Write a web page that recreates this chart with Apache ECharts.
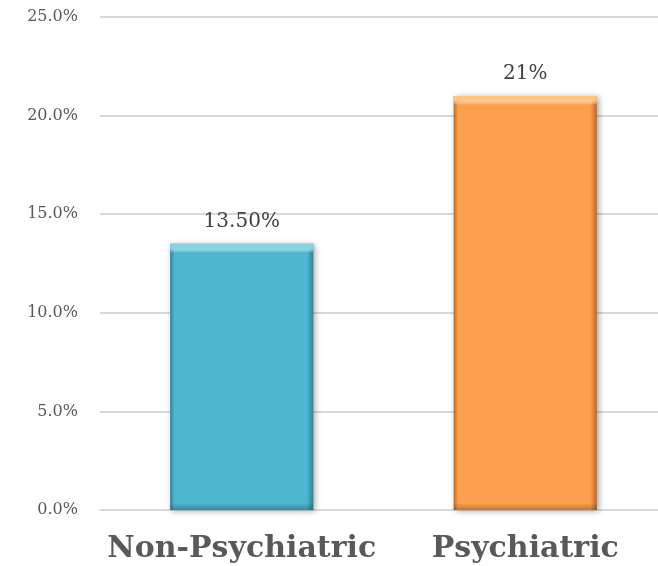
<!DOCTYPE html>
<html>
<head>
<meta charset="utf-8">
<script src="https://cdn.jsdelivr.net/npm/echarts@6/dist/echarts.min.js"></script>
<style>
  html, body { margin: 0; padding: 0; background: #fff; }
  #chart { width: 658px; height: 566px; }
</style>
</head>
<body>
<div id="chart"></div>
<script>
// Share of patients, by ward type
const categories = ['Non-Psychiatric', 'Psychiatric'];
const rates = [13.5, 21];
const rateLabels = ['13.50%', '21%'];
const yTicks = { min: 0, max: 25, step: 5 };

const FONT = '"DejaVu Serif", Georgia, serif';
const TEXT = '#595959';

// base face colours and their darker/lighter bevel tints
const faces = [
  { base: '#4fb6d0', dark: '#2f7f95', light: '#86d3e6' },
  { base: '#fba04e', dark: '#b8692a', light: '#ffc47e' }
];

function sideShade(f) {
  return new echarts.graphic.LinearGradient(0, 0, 1, 0, [
    { offset: 0, color: f.dark },
    { offset: 0.03, color: f.base },
    { offset: 0.955, color: f.base },
    { offset: 1, color: f.dark }
  ]);
}

// thin highlight along the top and shadow along the bottom, sized in pixels
function edgeShade(f, value) {
  const plotH = 493;
  const h = value / yTicks.max * plotH;
  const t = 9 / h, b = 7 / h;
  return new echarts.graphic.LinearGradient(0, 0, 0, 1, [
    { offset: 0, color: f.light },
    { offset: t * 0.4, color: f.light },
    { offset: t, color: 'rgba(255,255,255,0)' },
    { offset: 1 - b, color: 'rgba(0,0,0,0)' },
    { offset: 1, color: 'rgba(0,0,0,0.25)' }
  ]);
}

const chart = echarts.init(document.getElementById('chart'), null, { renderer: 'canvas' });
chart.setOption({
  animation: false,
  grid: { left: 100, top: 17, width: 567, height: 493, outerBoundsMode: 'none', containLabel: false },
  xAxis: {
    type: 'category',
    data: categories,
    axisLine: { show: true, lineStyle: { color: '#d9d9d9', width: 2 } },
    axisTick: { show: false },
    axisLabel: {
      interval: 0,
      color: TEXT, fontFamily: FONT, fontWeight: 'bold', fontSize: 30, margin: 24
    }
  },
  yAxis: {
    type: 'value',
    min: yTicks.min, max: yTicks.max, interval: yTicks.step,
    axisLine: { show: false },
    axisTick: { show: false },
    splitLine: { lineStyle: { color: '#d9d9d9', width: 2 } },
    axisLabel: {
      color: TEXT, fontFamily: FONT, fontSize: 16, margin: 22,
      formatter: v => v.toFixed(1) + '%'
    }
  },
  series: [
    {
      type: 'bar',
      barWidth: '50.5%',
      data: rates.map((v, i) => ({
        value: v,
        itemStyle: {
          color: sideShade(faces[i]),
          shadowColor: 'rgba(0,0,0,0.35)',
          shadowBlur: 6,
          shadowOffsetX: 2,
          shadowOffsetY: 1
        }
      })),
      label: {
        show: true,
        position: 'top',
        distance: 12,
        color: '#404040',
        fontFamily: FONT,
        fontSize: 20,
        formatter: p => rateLabels[p.dataIndex]
      },
      z: 2
    },
    {
      type: 'bar',
      barWidth: '50.5%',
      barGap: '-100%',
      silent: true,
      data: rates.map((v, i) => ({
        value: v,
        itemStyle: { color: edgeShade(faces[i], v) }
      })),
      z: 3
    }
  ]
});
</script>
</body>
</html>
